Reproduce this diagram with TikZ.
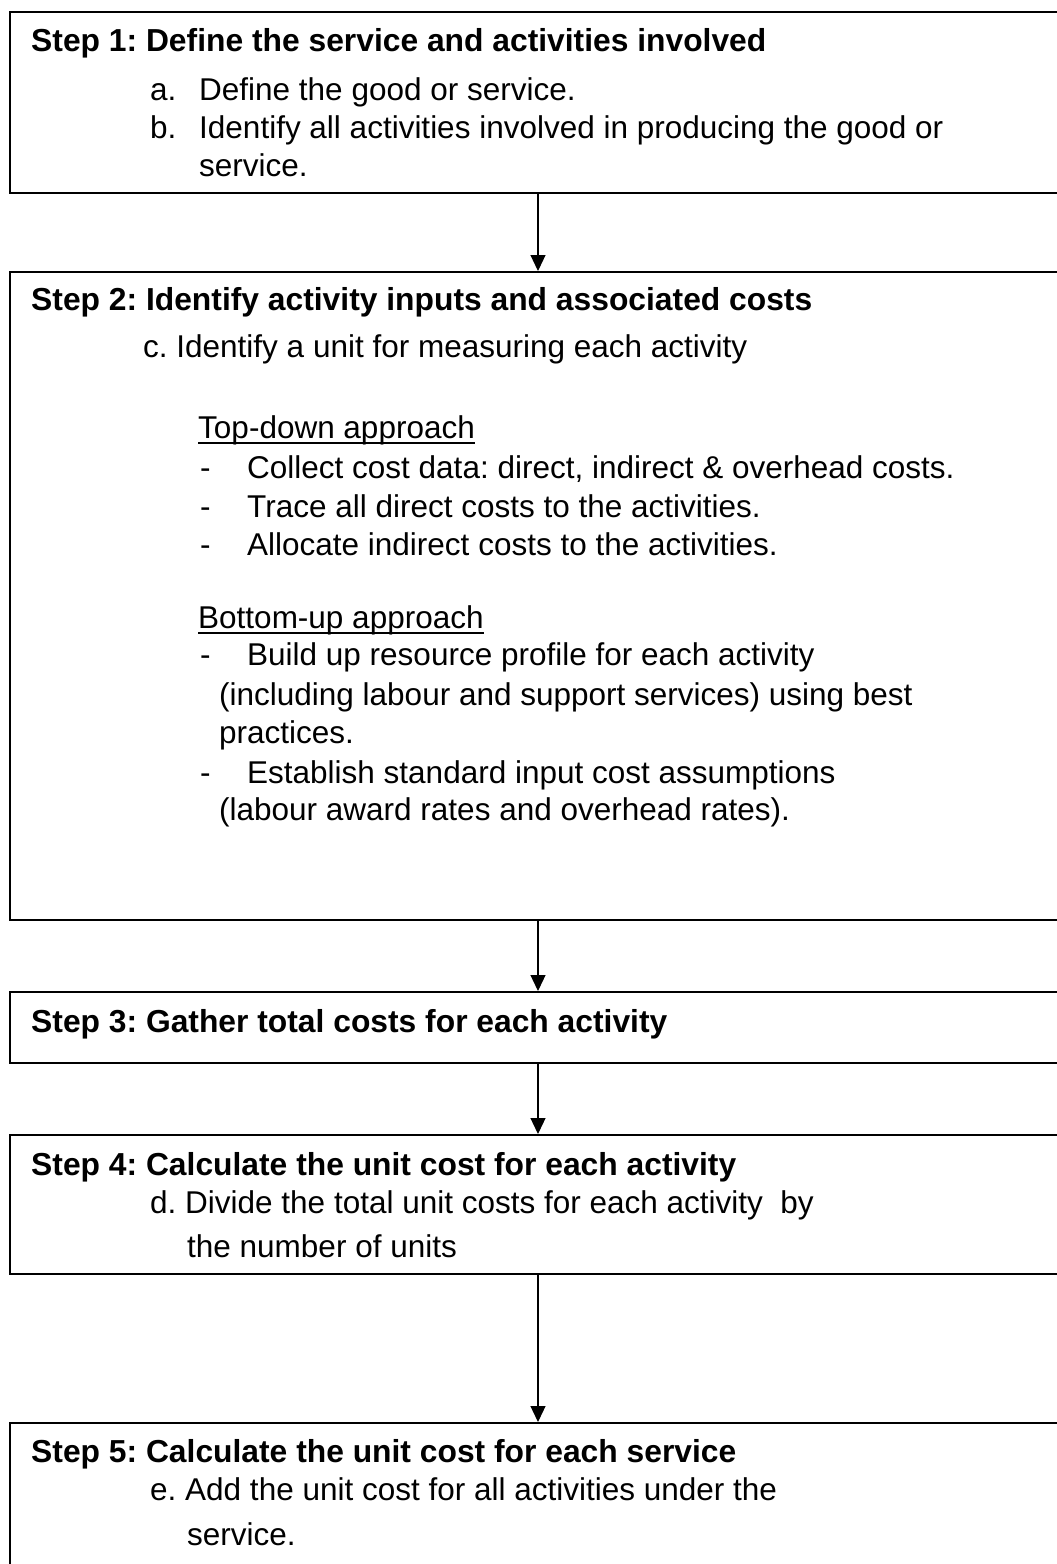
\documentclass[tikz,border=0pt]{standalone}
\usepackage{fontspec}
\setmainfont{Liberation Sans}
\usetikzlibrary{arrows.meta}
\begin{document}
\frenchspacing
\begin{tikzpicture}[x=1pt,y=-1pt,
  box/.style={draw, line width=1.5pt, rectangle, anchor=north west, inner sep=0pt, minimum width=1061pt},
  txt/.style={anchor=base west, inner sep=0pt, font=\fontsize{31.5}{38}\selectfont},
  hd/.style={anchor=base west, inner sep=0pt, font=\fontsize{31.8}{38}\selectfont\bfseries},
  uline/.style={line width=1.6pt},
  flow/.style={-{Triangle[length=16pt,width=15pt]}, line width=1.2pt}]
\useasboundingbox (0,0) rectangle (1057,1564);
\clip (0,0) rectangle (1057,1564);
\fill[white] (0,0) rectangle (1057,1564);
% boxes
\node[box, minimum height=181pt] (b1) at (9,11) {};
\node[box, minimum height=648pt] (b2) at (9,271) {};
\node[box, minimum height=71pt] (b3) at (9,991) {};
\node[box, minimum height=139pt] (b4) at (9,1134) {};
\node[box, minimum height=160pt] (b5) at (9,1422) {};
% arrows
\coordinate (ax) at (538,0);
\draw[flow] (b1.south -| ax) -- (b2.north -| ax);
\draw[flow] (b2.south -| ax) -- (b3.north -| ax);
\draw[flow] (b3.south -| ax) -- (b4.north -| ax);
\draw[flow] (b4.south -| ax) -- (b5.north -| ax);
% box 1
\node[hd] (s1) at (31,51) {Step 1: Define the service and activities involved};
\node[txt] (s1a) at (150,100) {a.};
\node[txt] (s1at) at (199,100) {Define the good or service.};
\node[txt] (s1b) at (150,138) {b.};
\node[txt] (s1bt) at (199,138) {Identify all activities involved in producing the good or};
\node[txt] (s1bt2) at (199,176) {service.};
% box 2
\node[hd] (s2) at (31,310) {Step 2: Identify activity inputs and associated costs};
\node[txt] (s2c) at (143,357) {c. Identify a unit for measuring each activity};
\node[txt] (td) at (198,438) {Top-down approach};
\draw[uline] ([yshift=-5pt]td.base west) -- ([yshift=-5pt]td.base east);
\node[txt] (td1d) at (200,478) {-};
\node[txt] (td1) at (247,478) {Collect cost data: direct, indirect \& overhead costs.};
\node[txt] (td2d) at (200,517) {-};
\node[txt] (td2) at (247,517) {Trace all direct costs to the activities.};
\node[txt] (td3d) at (200,555) {-};
\node[txt] (td3) at (247,555) {Allocate indirect costs to the activities.};
\node[txt] (bu) at (198,628) {Bottom-up approach};
\draw[uline] ([yshift=-5pt]bu.base west) -- ([yshift=-5pt]bu.base east);
\node[txt] (bu1d) at (200,665) {-};
\node[txt] (bu1) at (247,665) {Build up resource profile for each activity};
\node[txt] (bu1b) at (219,705) {(including labour and support services) using best};
\node[txt] (bu1c) at (219,743) {practices.};
\node[txt] (bu2d) at (200,783) {-};
\node[txt] (bu2) at (247,783) {Establish standard input cost assumptions};
\node[txt] (bu2b) at (219,820) {(labour award rates and overhead rates).};
% box 3
\node[hd] (s3) at (31,1032) {Step 3: Gather total costs for each activity};
% box 4
\node[hd] (s4) at (31,1175) {Step 4: Calculate the unit cost for each activity};
\node[txt] (s4d) at (150,1213) {d. Divide the total unit costs for each activity\ \ by};
\node[txt] (s4d2) at (187,1257) {the number of units};
% box 5
\node[hd] (s5) at (31,1462) {Step 5: Calculate the unit cost for each service};
\node[txt] (s5e) at (150,1500) {e. Add the unit cost for all activities under the};
\node[txt] (s5e2) at (187,1545) {service.};
\end{tikzpicture}
\end{document}
